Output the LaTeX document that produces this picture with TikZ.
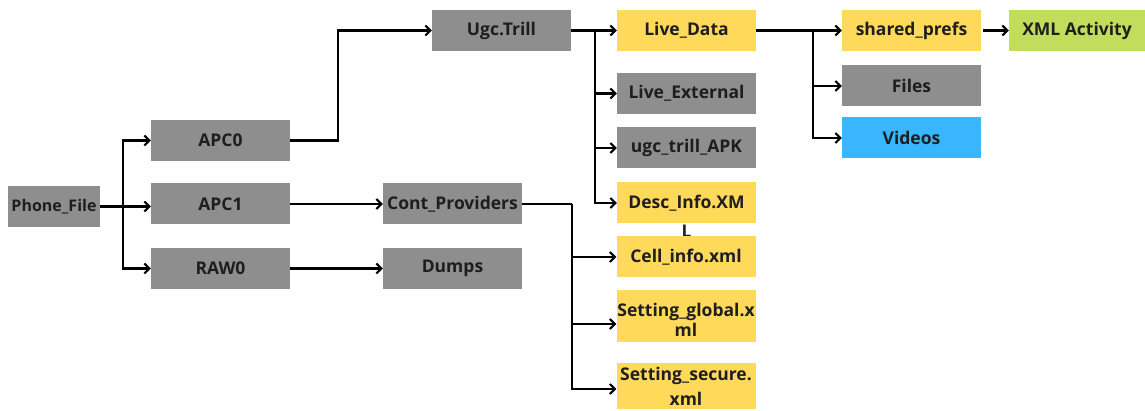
\documentclass[tikz,border=0pt]{standalone}
\usepackage{fontspec}
\setmainfont{Open Sans}
\usetikzlibrary{arrows.meta}
\definecolor{boxgray}{HTML}{8E8E8E}
\definecolor{boxyellow}{HTML}{FFD95A}
\definecolor{boxblue}{HTML}{38B6FF}
\definecolor{boxgreen}{HTML}{C2DD5C}
\definecolor{txt}{HTML}{1E1E1E}
\tikzset{
  bfont/.style={font=\fontsize{17.5}{19}\selectfont\bfseries},
  box/.style={rectangle, inner sep=0pt, minimum width=139pt, minimum height=41pt,
    text=txt, bfont, align=center},
  gbox/.style={box, fill=boxgray},
  ybox/.style={box, fill=boxyellow},
  inlabel/.style={text=txt, bfont, inner sep=0pt, align=center},
  conn/.style={line width=2.3pt, black, line join=miter},
  arr/.style={conn, -{Straight Barb[length=5pt,width=10pt,line width=2pt]}},
}
\begin{document}
\begin{tikzpicture}[x=1pt,y=-1pt]
\useasboundingbox (0,0) rectangle (1145,411);
% nodes
\node[gbox, minimum width=92pt, font=\fontsize{16}{18}\selectfont\bfseries] (pf) at (54,206.5) {Phone\_File};
\node[gbox] (apc0) at (220.5,140.5) {APC0};
\node[gbox] (apc1) at (220.5,204) {APC1};
\node[gbox] (raw0) at (220.5,268.5) {RAW0};
\node[gbox] (ugc) at (501.5,30.5) {Ugc.Trill};
\node[gbox] (cont) at (452.5,204) {Cont\_Providers};
\node[gbox] (dumps) at (452.5,268.5) {Dumps};
\node[ybox] (live) at (686.5,30.5) {Live\_Data};
\node[gbox] (lext) at (686.5,93.5) {Live\_External};
\node[gbox] (apk) at (686.5,148) {ugc\_trill\_APK};
\node[ybox, label={[inlabel, yshift=-1pt]below:L}] (desc) at (686.5,203) {Desc\_Info.XM};
\node[ybox] (cell) at (686,257) {Cell\_info.xml};
\node[ybox, minimum height=52pt, label={[inlabel, font=\fontsize{17.5}{20}\selectfont\bfseries, yshift=-4pt]center:Setting\_global.x\\ml}] (sg) at (686,316) {};
\node[ybox, minimum height=46pt, font=\fontsize{17.5}{25}\selectfont\bfseries] (ss) at (686,386) {Setting\_secure.\\xml};
\node[ybox] (sp) at (911.5,30.5) {shared\_prefs};
\node[box, fill=boxgreen, minimum width=136pt] (xml) at (1077,30.5) {XML Activity};
\node[gbox] (files) at (911.5,86) {Files};
\node[box, fill=boxblue] (vid) at (911.5,138) {Videos};
% branch coordinates
\coordinate (b1) at (123,206.5);
\coordinate (b2) at (338,140.5);
\coordinate (b3) at (595,30.5);
\coordinate (b4) at (572,204);
\coordinate (b5) at (813,30.5);
% connectors
\draw[arr] (pf.east) -- (apc1.west |- pf.east);
\draw[arr] (b1) |- (apc0.west);
\draw[arr] (b1) |- (raw0.west);
\draw[arr] (apc0.east) -- (b2) |- (ugc.west);
\draw[arr] (apc1.east) -- (cont.west);
\draw[arr] (raw0.east) -- (dumps.west);
\draw[arr] (ugc.east) -- (live.west);
\draw[arr] (b3) |- (lext.west);
\draw[arr] (b3) |- (apk.west);
\draw[arr] (b3) |- (desc.west);
\draw[conn] (cont.east) -- (b4);
\draw[arr] (b4) |- (cell.west);
\draw[arr] (b4) |- ([yshift=-8pt]sg.west);
\draw[arr] (b4) |- ([yshift=-3pt]ss.west);
\draw[arr] (live.east) -- (sp.west);
\draw[arr] (b5) |- (files.west);
\draw[arr] (b5) |- (vid.west);
\draw[arr] ([xshift=2pt]sp.east) -- (xml.west);
\end{tikzpicture}
\end{document}
